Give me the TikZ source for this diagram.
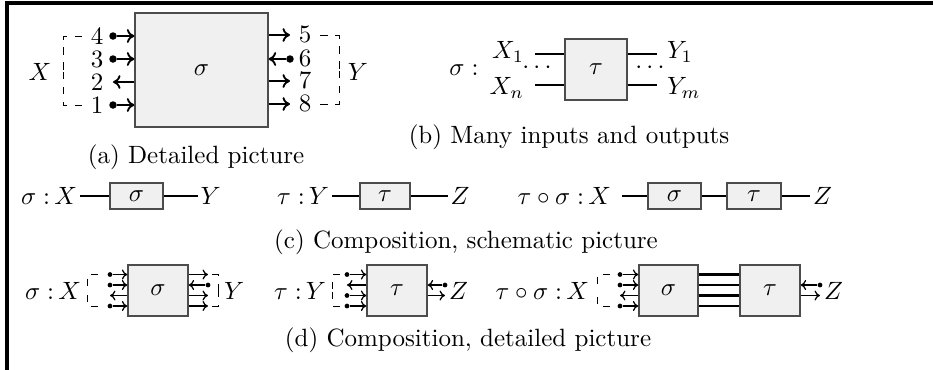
\documentclass[tikz,border=0pt]{standalone}
\usetikzlibrary{arrows.meta}
\begin{document}
\begin{tikzpicture}[x=0.4pt,y=-0.4pt,
  blk/.style={draw=black!70, fill=black!6, line width=0.5pt, inner sep=0pt},
  pinA/.style={circle, fill=black, inner sep=0pt, minimum size=3pt},
  pinD/.style={circle, fill=black, inner sep=0pt, minimum size=1.9pt},
  arrA/.style={line width=0.75pt, -{To[length=3pt,width=5.5pt]}},
  arrD/.style={line width=0.5pt, -{To[length=2.2pt,width=4pt]}},
  brk/.style={line width=0.4pt, dash pattern=on 3pt off 3pt},
  wireB/.style={line width=1pt},
  wireC/.style={line width=0.75pt},
  wireD/.style={line width=1pt},
  lbl/.style={inner sep=1pt}]
\useasboundingbox (0,0) rectangle (933,369);
% frame
\draw[line width=1.5pt] (7,375) -- (7,3) -- (940,3);

% ---------------- (a)
\node[blk, minimum width=53.2pt, minimum height=45.6pt] (A) at (201.5,70) {$\sigma$};
\node[pinA] (a4) at (113,36) {};
\node[pinA] (a3) at (113,59) {};
\coordinate (a2) at (113,82);
\node[pinA] (a1) at (113,105) {};
\draw[arrA] (a4) -- (a4 -| A.west);
\draw[arrA] (a3) -- (a3 -| A.west);
\draw[arrA] (a2 -| A.west) -- (a2);
\draw[arrA] (a1) -- (a1 -| A.west);
\node[lbl] (n4) at (97,36) {4};
\node[lbl] (n3) at (97,59) {3};
\node[lbl] (n2) at (97,82) {2};
\node[lbl] (n1) at (97,105) {1};
\coordinate (a5) at (290,35);
\node[pinA] (a6) at (290,59) {};
\coordinate (a7) at (290,81);
\coordinate (a8) at (290,104);
\draw[arrA] (a5 -| A.east) -- (a5);
\draw[arrA] (a6) -- (a6 -| A.east);
\draw[arrA] (a7 -| A.east) -- (a7);
\draw[arrA] (a8 -| A.east) -- (a8);
\node[lbl] (n5) at (305,34) {5};
\node[lbl] (n6) at (305,58) {6};
\node[lbl] (n7) at (305,80) {7};
\node[lbl] (n8) at (305,103) {8};
\draw[brk] (82,36) -- (63,36) -- (63,70.5);
\draw[brk] (82,105) -- (63,105) -- (63,70.5);
\draw[brk] (320,35) -- (339,35) -- (339,69.5);
\draw[brk] (320,104) -- (339,104) -- (339,69.5);
\node[lbl] (aX) at (40,72) {$X$};
\node[lbl] (aY) at (358,72) {$Y$};
\node (capa) at (196,157) {(a) Detailed picture};

% ---------------- (b)
\node[lbl] (bs) at (464,70) {$\sigma :$};
\node[lbl, anchor=east] (bx1) at (527,52) {$X_1$};
\node[lbl, anchor=east] (bxn) at (527,88) {$X_n$};
\node[blk, minimum width=24.8pt, minimum height=24.4pt] (T) at (596,69.5) {$\tau$};
\coordinate (bl1) at (535,54);
\coordinate (bln) at (535,85);
\coordinate (br1) at (657,54);
\coordinate (brm) at (657,85);
\draw[wireB] (bl1) -- (bl1 -| T.west);
\draw[wireB] (bln) -- (bln -| T.west);
\draw[wireB] (br1 -| T.east) -- (br1);
\draw[wireB] (brm -| T.east) -- (brm);
\node[inner sep=0pt] (bd1) at (537,68) {$\cdots$};
\node[inner sep=0pt] (bd2) at (650,68) {$\cdots$};
\node[lbl, anchor=west] (by1) at (664,52) {$Y_1$};
\node[lbl, anchor=west] (bym) at (664,88) {$Y_m$};
\node (capb) at (569,137) {(b) Many inputs and outputs};

% ---------------- (c)
\node[lbl, anchor=east] (c1) at (80,196) {$\sigma\;{:}\,X$};
\node[blk, minimum width=21.2pt, minimum height=10.4pt] (cs1) at (136.5,196) {$\sigma$};
\node[lbl, anchor=west] (cy1) at (197.5,196) {$Y$};
\draw[wireC] (c1.east) -- (cs1.west);
\draw[wireC] (cs1.east) -- (cy1.west);

\node[lbl, anchor=east] (c2) at (332,196) {$\tau\;{:}\,Y$};
\node[blk, minimum width=20pt, minimum height=10.4pt] (ct2) at (385,196) {$\tau$};
\node[lbl, anchor=west] (cz2) at (447.5,196) {$Z$};
\draw[wireC] (c2.east) -- (ct2.west);
\draw[wireC] (ct2.east) -- (cz2.west);

\node[lbl, anchor=east] (c3) at (614,196) {$\tau\circ\sigma\;{:}\,X$};
\node[blk, minimum width=21.2pt, minimum height=10.4pt] (cs3) at (674.5,196) {$\sigma$};
\node[blk, minimum width=21.6pt, minimum height=10.4pt] (ct3) at (754,196) {$\tau$};
\node[lbl, anchor=west] (cz3) at (810,196) {$Z$};
\draw[wireC] ([xshift=3.2pt]c3.east) -- (cs3.west);
\draw[wireC] (cs3.east) -- (ct3.west);
\draw[wireC] (ct3.east) -- (cz3.west);
\node (capc) at (466,242) {(c) Composition, schematic picture};

% ---------------- (d)
% sigma
\node[lbl, anchor=east] (d1) at (84,291) {$\sigma\;{:}\,X$};
\node[blk, minimum width=24pt, minimum height=20.4pt] (ds) at (158,290.5) {$\sigma$};
\draw[brk] (98,274.5) -- (87,274.5) -- (87,290.25);
\draw[brk] (98,306) -- (87,306) -- (87,290.25);
\node[pinD] (dsl1) at (110,274.5) {};
\node[pinD] (dsl2) at (110,285) {};
\coordinate (dsl3) at (110,295.5);
\node[pinD] (dsl4) at (110,306) {};
\draw[arrD] (dsl1) -- (dsl1 -| ds.west);
\draw[arrD] (dsl2) -- (dsl2 -| ds.west);
\draw[arrD] (dsl3 -| ds.west) -- (dsl3);
\draw[arrD] (dsl4) -- (dsl4 -| ds.west);
\coordinate (dsr1) at (208,274.5);
\node[pinD] (dsr2) at (208,285) {};
\coordinate (dsr3) at (208,295.5);
\coordinate (dsr4) at (208,306);
\draw[arrD] (dsr1 -| ds.east) -- (dsr1);
\draw[arrD] (dsr2) -- (dsr2 -| ds.east);
\draw[arrD] (dsr3 -| ds.east) -- (dsr3);
\draw[arrD] (dsr4 -| ds.east) -- (dsr4);
\draw[brk] (212,274.5) -- (218,274.5) -- (218,290.25);
\draw[brk] (212,306) -- (218,306) -- (218,290.25);
\node[lbl, anchor=west] (dy1) at (221,291) {$Y$};

% tau
\node[lbl, anchor=east] (d2) at (329,291) {$\tau\;{:}\,Y$};
\node[blk, minimum width=24pt, minimum height=20.4pt] (dt) at (397,290.5) {$\tau$};
\draw[brk] (340,274.5) -- (332,274.5) -- (332,290.25);
\draw[brk] (340,306) -- (332,306) -- (332,290.25);
\node[pinD] (dtl1) at (347,274.5) {};
\coordinate (dtl2) at (347,285);
\node[pinD] (dtl3) at (347,295.5) {};
\node[pinD] (dtl4) at (347,306) {};
\draw[arrD] (dtl1) -- (dtl1 -| dt.west);
\draw[arrD] (dtl2 -| dt.west) -- (dtl2);
\draw[arrD] (dtl3) -- (dtl3 -| dt.west);
\draw[arrD] (dtl4) -- (dtl4 -| dt.west);
\node[pinD] (dtr2) at (445,285) {};
\coordinate (dtr3) at (445,295.5);
\draw[arrD] (dtr2) -- (dtr2 -| dt.east);
\draw[arrD] (dtr3 -| dt.east) -- (dtr3);
\node[lbl, anchor=west] (dz2) at (446,291) {$Z$};

% composite
\node[lbl, anchor=east] (d3) at (592,291) {$\tau\circ\sigma\;{:}\,X$};
\node[blk, minimum width=23.6pt, minimum height=20.4pt] (dcs) at (668.5,290.5) {$\sigma$};
\node[blk, minimum width=24pt, minimum height=20.4pt] (dct) at (770,290.5) {$\tau$};
\draw[brk] (610,274.5) -- (597,274.5) -- (597,290.25);
\draw[brk] (610,306) -- (597,306) -- (597,290.25);
\node[pinD] (dcl1) at (620,274.5) {};
\node[pinD] (dcl2) at (620,285) {};
\coordinate (dcl3) at (620,295.5);
\node[pinD] (dcl4) at (620,306) {};
\draw[arrD] (dcl1) -- (dcl1 -| dcs.west);
\draw[arrD] (dcl2) -- (dcl2 -| dcs.west);
\draw[arrD] (dcl3 -| dcs.west) -- (dcl3);
\draw[arrD] (dcl4) -- (dcl4 -| dcs.west);
\foreach \r in {274.5,285,295.5,306} {
  \draw[wireD] (dcs.east |- 0,\r) -- (dct.west |- 0,\r);
}
\node[pinD] (dcr2) at (820,285) {};
\coordinate (dcr3) at (820,295.5);
\draw[arrD] (dcr2) -- (dcr2 -| dct.east);
\draw[arrD] (dcr3 -| dct.east) -- (dcr3);
\node[lbl, anchor=west] (dz3) at (821,291) {$Z$};
\node (capd) at (468,340) {(d) Composition, detailed picture};
\end{tikzpicture}
\end{document}
